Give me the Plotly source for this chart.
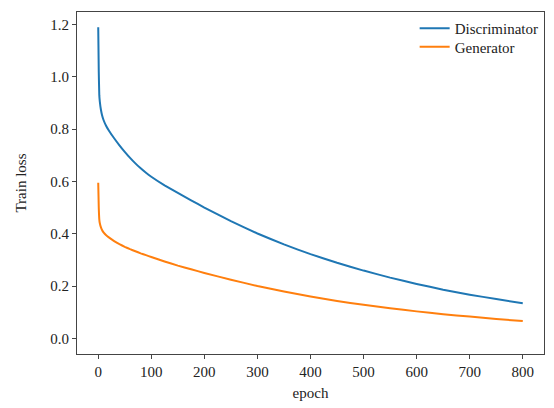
import plotly.graph_objects as go

epochs = [0, 1, 2, 3, 5, 7, 10, 15, 20, 30, 40, 50, 60, 70, 80, 90, 100, 125, 150, 175, 200,
          250, 300, 350, 400, 450, 500, 550, 600, 650, 700, 750, 800]
disc_loss = [1.19, 1.02, 0.93, 0.905, 0.875, 0.855, 0.835, 0.812, 0.795, 0.765, 0.738, 0.713,
             0.690, 0.669, 0.650, 0.633, 0.618, 0.585, 0.556, 0.528, 0.500,
             0.448, 0.401, 0.359, 0.322, 0.289, 0.259, 0.232, 0.208, 0.186, 0.167, 0.150, 0.134]
gen_loss = [0.595, 0.50, 0.455, 0.44, 0.425, 0.415, 0.405, 0.394, 0.386, 0.372, 0.360, 0.350,
            0.341, 0.333, 0.325, 0.318, 0.311, 0.294, 0.278, 0.264, 0.250,
            0.224, 0.200, 0.179, 0.160, 0.143, 0.128, 0.115, 0.103, 0.092, 0.083, 0.074, 0.066]

x_ticks = [0, 100, 200, 300, 400, 500, 600, 700, 800]
y_ticks = [0.0, 0.2, 0.4, 0.6, 0.8, 1.0, 1.2]

family = "Liberation Serif, Times New Roman, serif"
font = dict(family=family, size=15, color="#222222")

fig = go.Figure()
fig.add_trace(go.Scatter(x=epochs, y=disc_loss, mode="lines", name="Discriminator",
                         legend="legend",
                         line=dict(color="#1f77b4", width=2, shape="spline", smoothing=0.3)))
fig.add_trace(go.Scatter(x=epochs, y=gen_loss, mode="lines", name="Generator",
                         legend="legend2",
                         line=dict(color="#ff7f0e", width=2, shape="spline", smoothing=0.3)))

axis_common = dict(showgrid=False, zeroline=False, showline=True, linecolor="#444444",
                   linewidth=1.2, mirror=True, ticks="outside", ticklen=4,
                   tickcolor="#444444", tickfont=font)

leg_common = dict(xanchor="left", yanchor="top", bgcolor="rgba(0,0,0,0)",
                  font=dict(family=family, size=15, color="#222222"), itemwidth=30)

fig.update_layout(
    width=554, height=408,
    margin=dict(l=77, r=9, t=12, b=47),
    paper_bgcolor="white", plot_bgcolor="white",
    font=font,
    xaxis=dict(range=[-40, 840], tickvals=x_ticks, ticktext=[str(v) for v in x_ticks],
               title=dict(text="epoch", font=font, standoff=8), **axis_common),
    yaxis=dict(range=[-0.06, 1.248], tickvals=y_ticks, ticktext=[f"{v:.1f}" for v in y_ticks],
               title=dict(text="Train loss", font=font, standoff=19), **axis_common),
    legend=dict(x=0.723, y=1.0, **leg_common),
    legend2=dict(x=0.723, y=0.946, **leg_common),
    showlegend=True,
)

fig.write_html("out.html")
